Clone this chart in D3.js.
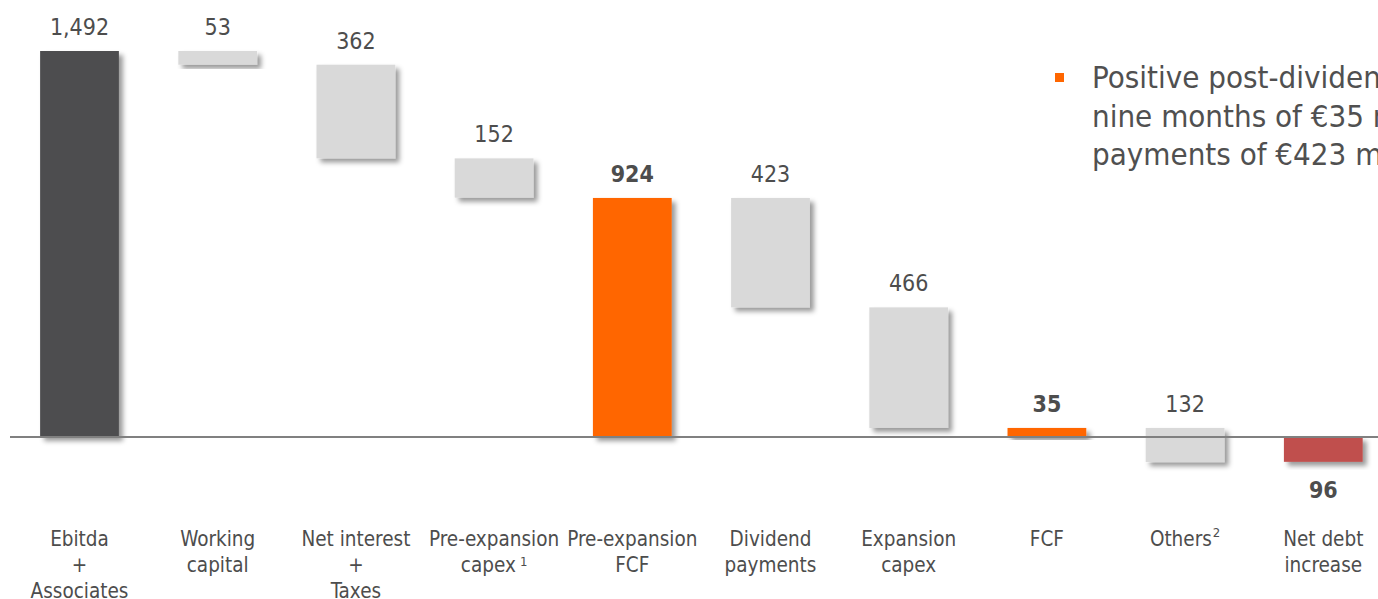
<!DOCTYPE html>
<html>
<head>
<meta charset="utf-8">
<script src="https://cdn.jsdelivr.net/npm/d3@7"></script>
<style>
	html, body { margin: 0; padding: 0; background: #fff; overflow: hidden; }
	#chart { width: 1378px; height: 599px; }
	text { font-family: "DejaVu Sans Condensed", "DejaVu Sans", sans-serif; fill: #4d4d4d; }
</style>
</head>
<body>
<div id="chart"></div>
<script>

// categories, one entry per bar (lines of the tick label)
var categories = [
	["Ebitda", "+", "Associates"],
	["Working", "capital"],
	["Net interest", "+", "Taxes"],
	["Pre-expansion", "capex|1"],
	["Pre-expansion", "FCF"],
	["Dividend", "payments"],
	["Expansion", "capex"],
	["FCF"],
	["Others|2"],
	["Net debt", "increase"]
];

// signed values in € million
var values = [1492, -53, -362, -152, 924, -423, -466, 35, -132, -96];

// start = first total, delta = floating step, total = bar from zero
var kinds = ["start", "delta", "delta", "delta", "total", "delta", "delta", "total", "delta", "total"];

var bulletLines = [
	"Positive post-dividend FCF in the first",
	"nine months of €35 million after dividend",
	"payments of €423 million"
];

var Chart = function() {

	var width = 1378, height = 599,
		svg, x, y;

	var colours = {
		start: "#4d4d4f",
		delta: "#d9d9d9",
		totalPos: "#ff6600",
		totalNeg: "#c0504d"
	};

	var fmt = d3.format(",");

	// running sum for the floating steps
	var buildSteps = function() {
		var running = 0;
		return values.map(function(v, i) {
			var d = { i: i, value: v, kind: kinds[i], label: categories[i] };
			if (kinds[i] === "delta") {
				d.y0 = running;
				d.y1 = running + v;
				running = d.y1;
			} else {
				d.y0 = 0;
				d.y1 = v;
				running = v;
			}
			return d;
		});
	}

	var fill = function(d) {
		if (d.kind === "start") return colours.start;
		if (d.kind === "delta") return colours.delta;
		return d.value < 0 ? colours.totalNeg : colours.totalPos;
	}

	var initialize = function() {

		svg = d3.select("#chart").append("svg")
		.attr("width", width)
		.attr("height", height);

		var defs = svg.append("defs");
		var f = defs.append("filter")
		.attr("id", "shadow")
		.attr("x", "-20%").attr("y", "-20%")
		.attr("width", "150%").attr("height", "150%");
		f.append("feDropShadow")
		.attr("dx", 4).attr("dy", 4)
		.attr("stdDeviation", 2.5)
		.attr("flood-color", "#000")
		.attr("flood-opacity", 0.4);

		// band scale: 10 bars, first at x=40, step ~138
		x = d3.scaleBand()
		.domain(d3.range(values.length))
		.range([10.4, 1392.4])
		.paddingInner(0.43)
		.paddingOuter(0.215);

		y = d3.scaleLinear()
		.domain([0, 1492])
		.range([437, 51]);

	}

	var render = function() {

		var data = buildSteps();

		// bars
		svg.append("g")
		.selectAll("rect")
		.data(data)
		.enter()
		.append("rect")
		.attr("x", function(d) { return x(d.i); })
		.attr("width", x.bandwidth())
		.attr("y", function(d) { return y(Math.max(d.y0, d.y1)); })
		.attr("height", function(d) { return Math.abs(y(d.y0) - y(d.y1)); })
		.attr("fill", fill)
		.attr("filter", "url(#shadow)");

		// zero line
		svg.append("line")
		.attr("x1", 10).attr("x2", width)
		.attr("y1", y(0)).attr("y2", y(0))
		.attr("stroke", "#808080")
		.attr("stroke-width", 2);

		// value labels
		svg.append("g")
		.selectAll("text")
		.data(data)
		.enter()
		.append("text")
		.attr("x", function(d) { return x(d.i) + x.bandwidth() / 2; })
		.attr("y", function(d) {
			var below = d.kind === "total" && d.value < 0;
			return below ? y(Math.min(d.y0, d.y1)) + 36 : y(Math.max(d.y0, d.y1)) - 16;
		})
		.attr("text-anchor", "middle")
		.style("font-size", "23px")
		.style("font-weight", function(d) { return d.kind === "total" ? "bold" : "normal"; })
		.text(function(d) { return fmt(Math.abs(d.value)); });

		// category labels
		var cat = svg.append("g")
		.selectAll("text")
		.data(data)
		.enter()
		.append("text")
		.attr("text-anchor", "middle")
		.style("font-size", "20.5px");

		cat.each(function(d) {
			var t = d3.select(this);
			var cx = x(d.i) + x.bandwidth() / 2;
			d.label.forEach(function(line, k) {
				var parts = line.split("|");
				var ts = t.append("tspan")
				.attr("x", cx)
				.attr("y", 546 + k * 26);
				ts.append("tspan").text(parts[0]);
				if (parts[1]) {
					ts.append("tspan")
					.attr("dy", parts[0] === "capex" ? -6 : -9)
					.attr("dx", parts[0] === "capex" ? 4 : 1)
					.style("font-size", "13px")
					.text(parts[1]);
				}
			});
		});

		// bullet text on the right
		svg.append("rect")
		.attr("x", 1055).attr("y", 73)
		.attr("width", 9).attr("height", 9)
		.attr("fill", colours.totalPos);

		svg.append("g")
		.selectAll("text")
		.data(bulletLines)
		.enter()
		.append("text")
		.attr("x", 1092)
		.attr("y", function(d, i) { return 88 + i * 38.5; })
		.style("font-size", "31px")
		.style("fill", "#505050")
		.text(function(d) { return d; });

	}

	return {
		initialize: initialize,
		render: render
	}

};

var chart = Chart();
chart.initialize();
chart.render();

</script>
</body>
</html>
